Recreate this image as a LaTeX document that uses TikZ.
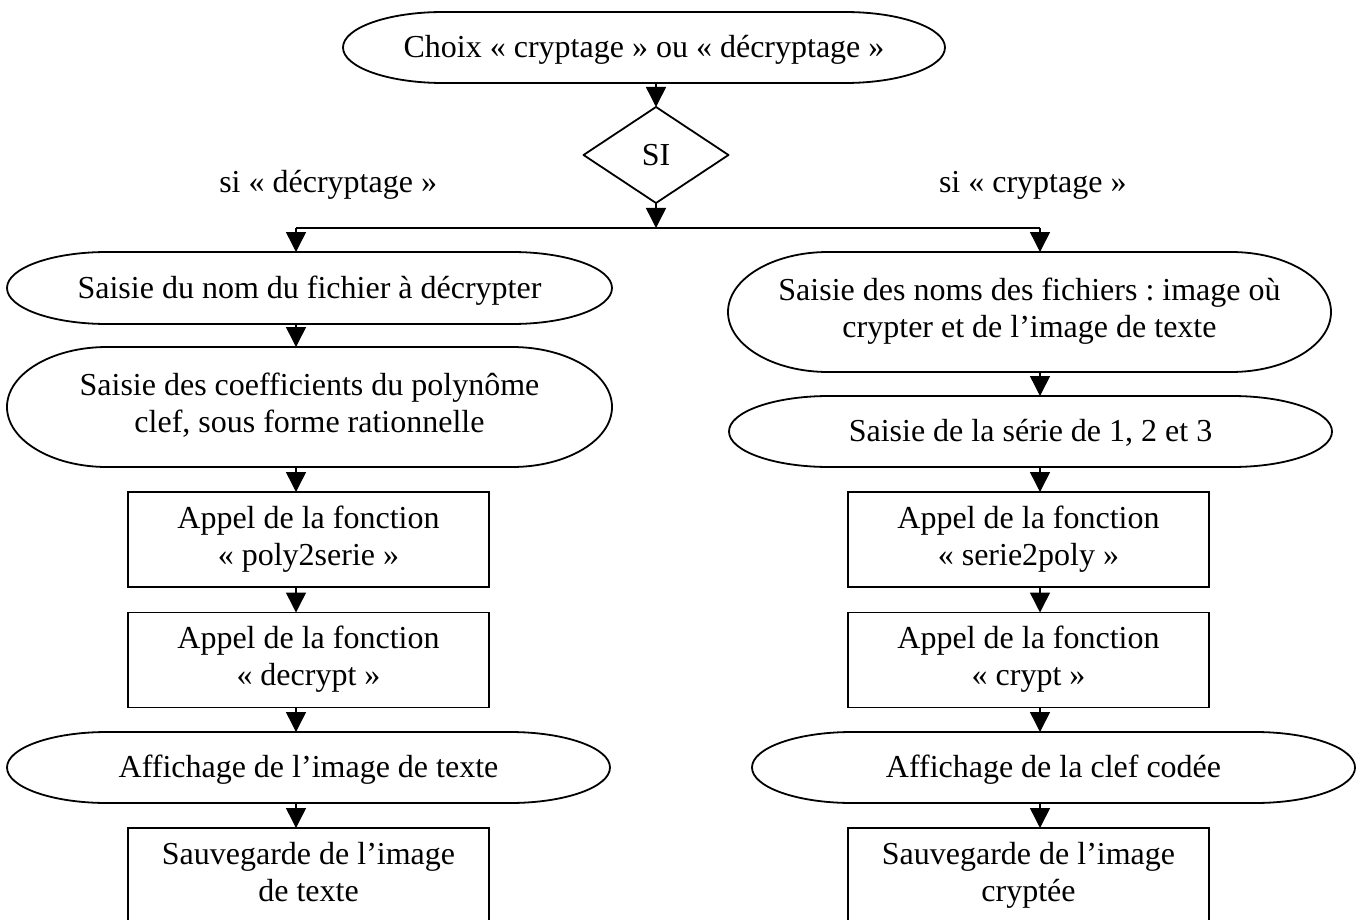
\documentclass[tikz,border=0pt]{standalone}
\usepackage{fontspec}
\setmainfont{Liberation Serif}
\usetikzlibrary{arrows.meta,calc}
\frenchspacing
\newcommand\zs{\rule[-8pt]{0pt}{36pt}}
% terminator outline: #1 node name, #2 horizontal cap radius, #3 half height
\newcommand\termshape[3]{%
  \draw[shapeline] ($(#1.north west)+(#2,0)$) -- ($(#1.north east)+(-#2,0)$)
    .. controls ($(#1.north east)+({-0.4477*#2},0)$) and ($(#1.east)+(0,{-0.5523*#3})$) .. (#1.east)
    .. controls ($(#1.east)+(0,{0.5523*#3})$) and ($(#1.south east)+({-0.4477*#2},0)$) .. ($(#1.south east)+(-#2,0)$)
    -- ($(#1.south west)+(#2,0)$)
    .. controls ($(#1.south west)+({0.4477*#2},0)$) and ($(#1.west)+(0,{0.5523*#3})$) .. (#1.west)
    .. controls ($(#1.west)+(0,{-0.5523*#3})$) and ($(#1.north west)+({0.4477*#2},0)$) .. ($(#1.north west)+(#2,0)$)
    -- cycle;}
\begin{document}
\begin{tikzpicture}[x=1pt,y=-1pt,
  every node/.style={font=\fontsize{32}{36.8}\selectfont, inner sep=0pt, outer sep=0pt, align=center},
  strutted/.style={execute at begin node=\zs, execute at end node=\zs},
  shapeline/.style={line width=1.8pt, line join=round},
  conn/.style={line width=1.5pt, -{Triangle[width=20pt,length=20pt]}},
  plain/.style={line width=1.6pt},
  boxnode/.style={strutted, draw, line width=1.8pt, minimum width=361pt, minimum height=95pt},
  termnode/.style={strutted, minimum width=603pt}]
\useasboundingbox (0,0) rectangle (1362,920);
\fill[white] (0,0) rectangle (1362,920);

% column coordinates
\coordinate (cL) at (296,0);
\coordinate (cC) at (656,0);
\coordinate (cR) at (1040,0);
\coordinate (J) at (656,228);

% top
\node[termnode, minimum width=602pt, minimum height=71pt] (top) at (644,47.5) {Choix « cryptage » ou « décryptage »};
\termshape{top}{100}{35.5}

\node[minimum width=145pt, minimum height=96pt] (D) at (656,155) {SI};
\draw[shapeline] (D.north) -- (D.east) -- (D.south) -- (D.west) -- cycle;

\node[anchor=base east] (lblL) at (437,193) {si « décryptage »};
\node[anchor=base west] (lblR) at (939,193) {si « cryptage »};

% left column
\node[termnode, minimum width=605pt, minimum height=72pt] (E1) at (309.5,288) {Saisie du nom du fichier à décrypter};
\termshape{E1}{100}{36}
\node[termnode, minimum width=605pt, minimum height=120pt] (E2) at (309.5,407) {Saisie des coefficients du polynôme\\clef, sous forme rationnelle};
\termshape{E2}{100}{60}
\node[boxnode] (B1) at (308.5,539.5) {Appel de la fonction\\« poly2serie »};
\node[boxnode] (B2) at (308.5,660) {Appel de la fonction\\« decrypt »};
\node[termnode, minimum height=71pt] (E3) at (308.5,767.5) {Affichage de l’image de texte};
\termshape{E3}{100}{35.5}
\node[boxnode] (B3) at (308.5,875.5) {Sauvegarde de l’image\\de texte};

% right column
\node[termnode, minimum height=120pt] (E4) at (1029.5,312) {Saisie des noms des fichiers : image où\\crypter et de l’image de texte};
\termshape{E4}{100}{60}
\node[termnode, minimum height=71pt] (E5) at (1030.5,431.5) {Saisie de la série de 1, 2 et 3};
\termshape{E5}{100}{35.5}
\node[boxnode] (B4) at (1028.5,539.5) {Appel de la fonction\\« serie2poly »};
\node[boxnode] (B5) at (1028.5,660) {Appel de la fonction\\« crypt »};
\node[termnode, minimum height=71pt] (E6) at (1053.5,767.5) {Affichage de la clef codée};
\termshape{E6}{100}{35.5}
\node[boxnode] (B6) at (1028.5,875.5) {Sauvegarde de l’image\\cryptée};

% connectors
\draw[conn] (top.south -| cC) -- (D.north);
\draw[conn] (D.south) -- (J);
\draw[plain] (J -| cL) -- (J -| cR);
\draw[conn] (J -| cL) -- (E1.north -| cL);
\draw[conn] (J -| cR) -- (E4.north -| cR);

\draw[conn] (E1.south -| cL) -- (E2.north -| cL);
\draw[conn] (E2.south -| cL) -- (B1.north -| cL);
\draw[conn] (B1.south -| cL) -- (B2.north -| cL);
\draw[conn] (B2.south -| cL) -- (E3.north -| cL);
\draw[conn] (E3.south -| cL) -- (B3.north -| cL);

\draw[conn] (E4.south -| cR) -- (E5.north -| cR);
\draw[conn] (E5.south -| cR) -- (B4.north -| cR);
\draw[conn] (B4.south -| cR) -- (B5.north -| cR);
\draw[conn] (B5.south -| cR) -- (E6.north -| cR);
\draw[conn] (E6.south -| cR) -- (B6.north -| cR);
\end{tikzpicture}
\end{document}
